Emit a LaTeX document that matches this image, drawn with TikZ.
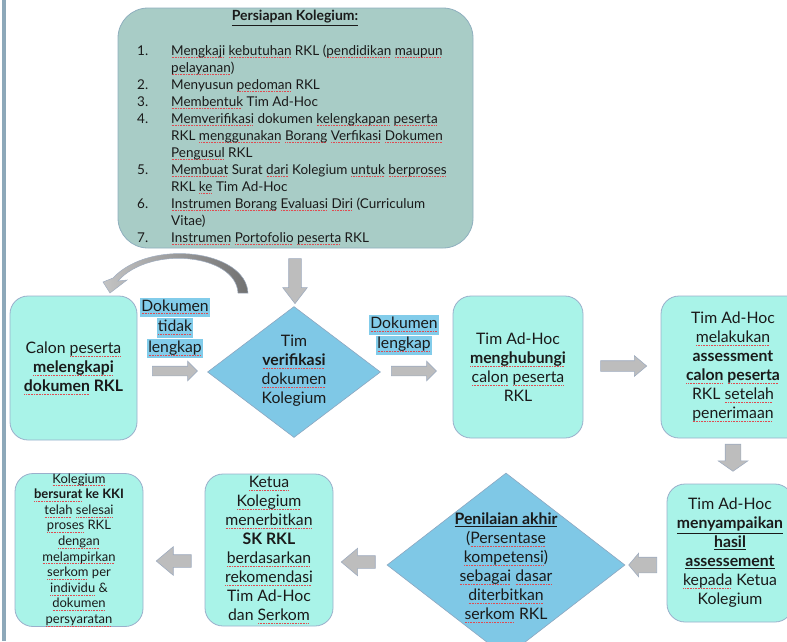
\documentclass[tikz,border=0pt]{standalone}
\usepackage{fontspec}
\setmainfont{Lato}
\usetikzlibrary{shapes.geometric,shapes.arrows}
\definecolor{barcol}{HTML}{8DA8B9}
\definecolor{topfill}{HTML}{A8CCC6}
\definecolor{topborder}{HTML}{8FAFBE}
\definecolor{aqua}{HTML}{A9F3E8}
\definecolor{aquaborder}{HTML}{9AAFCB}
\definecolor{skyfill}{HTML}{7FC8E6}
\definecolor{skyborder}{HTML}{8CA6C0}
\definecolor{hlblue}{HTML}{82CCEA}
\definecolor{arrfill}{HTML}{BDBDBD}
\definecolor{arrborder}{HTML}{9FACBF}
\definecolor{txt}{HTML}{1A1A1A}
\definecolor{sqred}{HTML}{E04A50}
\newsavebox\sqbox
\newcommand\hlword[1]{{\setlength\fboxsep{0.8pt}\colorbox{hlblue}{\strut #1}}}
\newcommand\sq[1]{\leavevmode\sbox\sqbox{#1}\rlap{\color{sqred}\leaders\hbox to 1.6pt{\hss\rule[-3pt]{0.9pt}{0.7pt}\hss}\hskip\wd\sqbox}\usebox\sqbox}
\begin{document}
\begin{tikzpicture}[x=1pt,y=-1pt,
  every node/.style={text=txt},
  aquabox/.style={draw=aquaborder,fill=aqua,line width=0.8pt,rounded corners=18pt,inner sep=0pt,align=center},
  boxtext/.style={font=\fontsize{15.8}{19}\selectfont},
  smalltext/.style={font=\fontsize{13}{15.6}\selectfont},
  dia/.style={diamond,draw=skyborder,fill=skyfill,line width=0.6pt,inner sep=0pt},
  blockarrow/.style={single arrow,draw=arrborder,fill=arrfill,line width=0.6pt,inner xsep=0pt,minimum width=1pt},
]
\useasboundingbox (0,0) rectangle (787,641);
\clip (0,0) rectangle (787,641);
% left bar
\fill[barcol] (2,0) rectangle (6,641);

% top box
\node[draw=topborder,fill=topfill,line width=0.8pt,rounded corners=30pt,minimum width=355pt,minimum height=240pt,inner sep=0pt] (prep) at (295.5,128) {};
\node[font=\fontsize{14}{17}\selectfont\bfseries,inner sep=0pt] (preptitle) at (295,18) {\underline{Persiapan Kolegium:}};
\node[anchor=north west,inner sep=0pt,font=\fontsize{13.5}{17}\selectfont] (preplist) at (137,43) {%
\begin{tabular}{@{}p{34pt}@{}l@{}}
1. & \sq{Mengkaji} \sq{kebutuhan} RKL (\sq{pendidikan} \sq{maupun}\\
   & \sq{pelayanan})\\
2. & Menyusun \sq{pedoman} RKL\\
3. & \sq{Membentuk} Tim Ad-Hoc\\
4. & \sq{Memverifikasi} dokumen \sq{kelengkapan} \sq{peserta}\\
   & RKL \sq{menggunakan} \sq{Borang} \sq{Verfikasi} \sq{Dokumen}\\
   & \sq{Pengusul} RKL\\
5. & \sq{Membuat} Surat \sq{dari} Kolegium \sq{untuk} \sq{berproses}\\
   & RKL \sq{ke} Tim Ad-Hoc\\
6. & \sq{Instrumen} \sq{Borang} \sq{Evaluasi} \sq{Diri} (Curriculum\\
   & Vitae)\\
7. & \sq{Instrumen} \sq{Portofolio} \sq{peserta} RKL
\end{tabular}};

% curved return arrow
\shade[left color=arrfill!90!white,right color=arrfill!60!black,draw=arrborder,line width=0.5pt]
  (248,293) .. controls (246,250) and (150,238) .. (113,278) -- (103,282) -- (110,293) -- (127,280) -- (118,281)
  .. controls (150,245) and (236,254) .. (238,293) -- cycle;

% row 1
\node[aquabox,boxtext,minimum width=127pt,minimum height=144pt] (calon) at (73.5,368) {Calon \sq{peserta}\\\textbf{\sq{melengkapi}}\\\textbf{\sq{dokumen} RKL}};
\node[dia,minimum width=173pt,minimum height=131pt] (verif) at (294,372) {};
\node[boxtext,align=center,inner sep=0pt] (veriftext) at (294,371) {Tim\\\textbf{\sq{verifikasi}}\\\sq{dokumen}\\Kolegium};
\node[aquabox,boxtext,minimum width=130pt,minimum height=142pt] (hub) at (518,367) {Tim Ad-Hoc\\\textbf{\sq{menghubungi}}\\\sq{calon} \sq{peserta}\\RKL};
\node[aquabox,boxtext,minimum width=144pt,minimum height=142pt] (melak) at (733,367) {Tim Ad-Hoc\\\sq{melakukan}\\\textbf{assessment}\\\textbf{\sq{calon} \sq{peserta}}\\RKL \sq{setelah}\\\sq{penerimaan}};

% labels
\node[align=center,inner sep=0pt,font=\fontsize{15.7}{18}\selectfont] (lbltidak) at (175,328) {\hlword{\sq{Dokumen}}\\\hlword{\sq{tidak}}\\\hlword{\sq{lengkap}}};
\node[align=center,inner sep=0pt,font=\fontsize{15.7}{17.5}\selectfont] (lbllengkap) at (404,335) {\hlword{\sq{Dokumen}}\\\hlword{\sq{lengkap}}};

% row 2
\node[aquabox,boxtext,minimum width=126pt,minimum height=138pt] (sampai) at (730,553) {Tim Ad-Hoc\\\textbf{\underline{menyampaikan}}\\\textbf{\underline{hasil}}\\\textbf{\underline{assessement}}\\\sq{kepada} Ketua\\Kolegium};
\node[dia,minimum width=238pt,minimum height=184pt] (nilai) at (506,565) {};
\node[boxtext,align=center,inner sep=0pt] (nilaitext) at (506,568) {\textbf{\underline{Penilaian akhir}}\\(\sq{Persentase}\\\sq{kompetensi})\\\sq{sebagai} \sq{dasar}\\\sq{diterbitkan}\\\sq{serkom} RKL};
\node[aquabox,boxtext,minimum width=128pt,minimum height=152pt] (ketua) at (269,550) {\sq{Ketua}\\\sq{Kolegium}\\\sq{menerbitkan}\\\textbf{SK RKL}\\\sq{berdasarkan}\\\sq{rekomendasi}\\Tim Ad-Hoc\\dan \sq{Serkom}};
\node[aquabox,smalltext,minimum width=128pt,minimum height=152pt] (kki) at (79,550) {\sq{Kolegium}\\\textbf{\sq{bersurat} ke KKI}\\\sq{telah} \sq{selesai}\\\sq{proses} RKL\\\sq{dengan}\\\sq{melampirkan}\\\sq{serkom} per\\\sq{individu} \&\\\sq{dokumen}\\\sq{persyaratan}};

% block arrows
\node[blockarrow,inner ysep=6pt,minimum height=45pt,single arrow head extend=6pt,single arrow tip angle=75,rotate=-90] (a1) at (295,277) {};
\node[blockarrow,inner ysep=4.5pt,minimum height=45pt,single arrow head extend=5pt,single arrow tip angle=90] (a2) at (172.5,371) {};
\node[blockarrow,inner ysep=4.5pt,minimum height=45pt,single arrow head extend=5pt,single arrow tip angle=90] (a3) at (411.5,371) {};
\node[blockarrow,inner ysep=5pt,minimum height=46pt,single arrow head extend=5pt,single arrow tip angle=80] (a4) at (620.5,366) {};
\node[blockarrow,inner ysep=7.5pt,minimum height=27pt,single arrow head extend=7pt,single arrow tip angle=110,rotate=-90] (a5) at (733,455) {};
\node[blockarrow,inner ysep=7.5pt,minimum height=28pt,single arrow head extend=4pt,single arrow tip angle=100,rotate=180] (a6) at (646,565) {};
\node[blockarrow,inner ysep=6pt,minimum height=34pt,single arrow head extend=7.5pt,single arrow tip angle=80,rotate=180] (a7) at (362,562) {};
\node[blockarrow,inner ysep=6pt,minimum height=35pt,single arrow head extend=8pt,single arrow tip angle=80,rotate=180] (a8) at (177.5,561) {};
\end{tikzpicture}
\end{document}
